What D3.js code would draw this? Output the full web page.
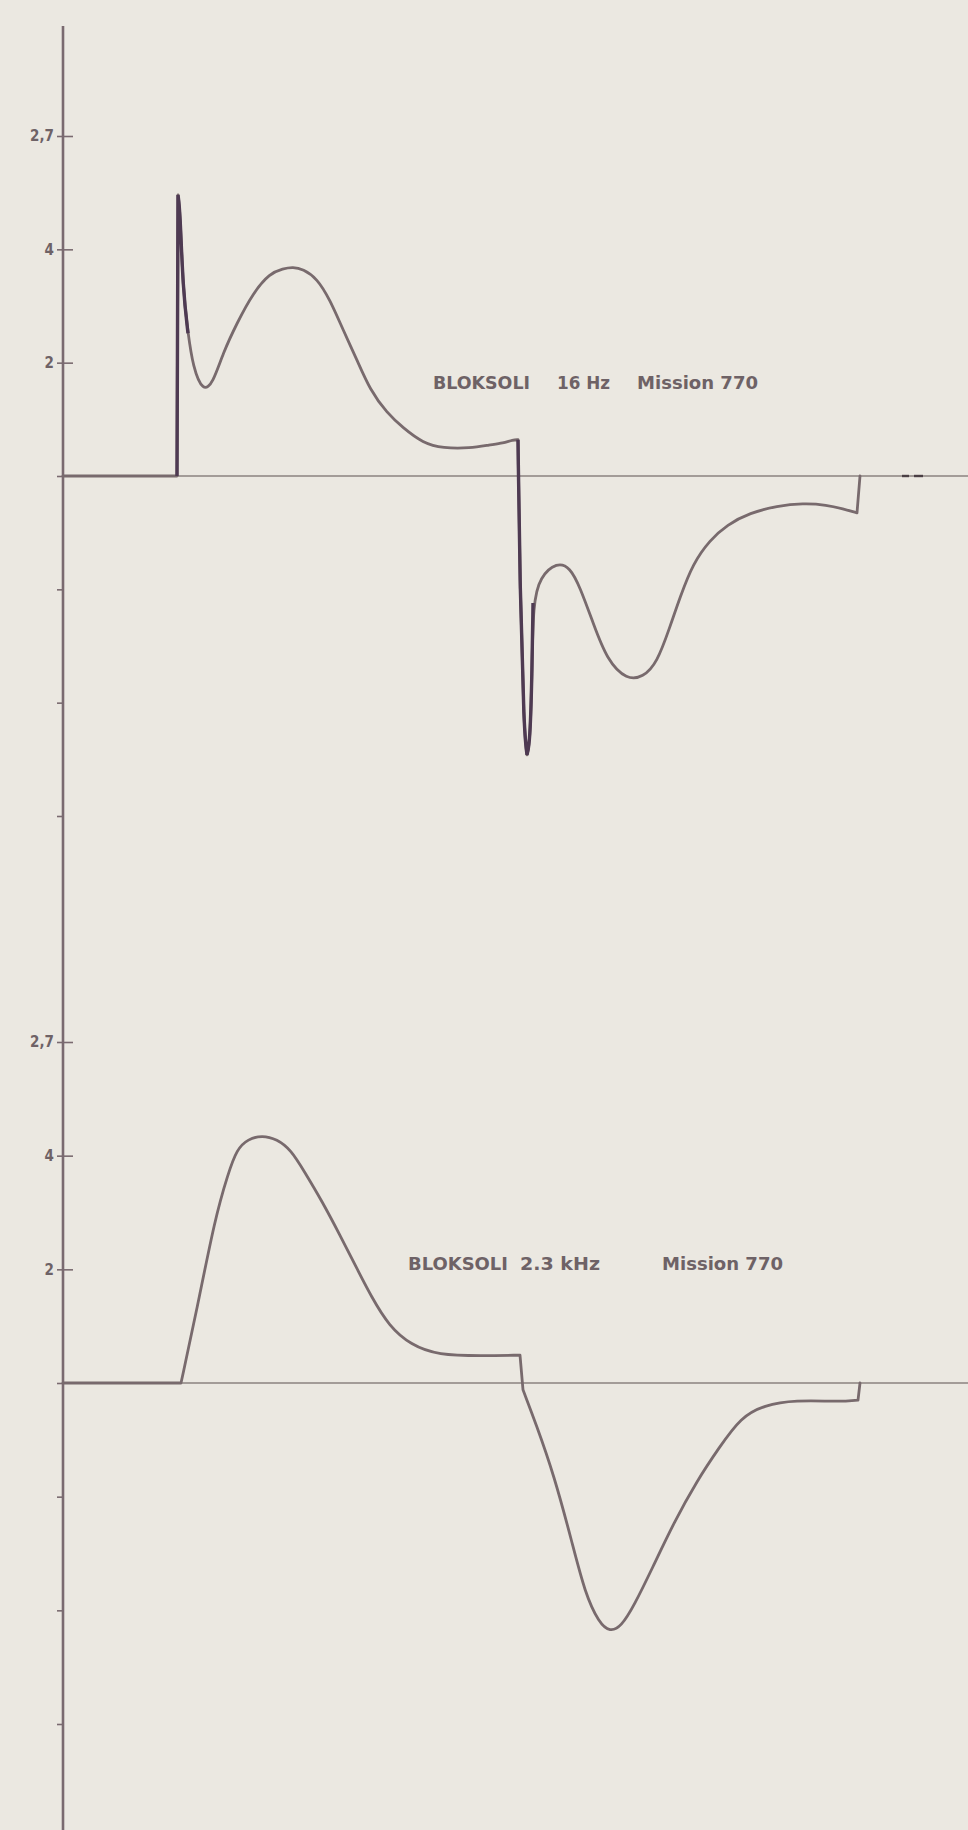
<!DOCTYPE html>
<html>
<head>
<meta charset="utf-8">
<script src="https://cdn.jsdelivr.net/npm/d3@7/dist/d3.min.js"></script>
<style>
  html, body { margin: 0; padding: 0; background: #ebe8e1; }
  svg { display: block; }
  text { font-family: "Liberation Sans Narrow", "DejaVu Sans Condensed", sans-serif; font-weight: bold; fill: #6e6266; }
</style>
</head>
<body>
<svg id="chart" width="968" height="1830"></svg>
<script>
// ---------- data ----------
// time (arbitrary units) and signal amplitude
const topTime = [0, 114, 115, 117, 120, 125, 130, 140, 150, 160, 174, 190, 207, 220, 230, 240, 254, 267, 280, 294, 307, 324, 340, 360, 380, 407, 427, 440, 450, 455, 457, 461, 464, 467, 469, 470, 477, 494, 507, 517, 530, 544, 564, 580, 594, 607, 617, 630, 647, 664, 687, 714, 740, 764, 780, 794, 797];
const topValue = [0, 0, 4.96, 4.70, 3.28, 2.52, 1.92, 1.48, 1.64, 2.17, 2.70, 3.23, 3.58, 3.66, 3.69, 3.65, 3.49, 3.11, 2.58, 2.05, 1.52, 1.11, 0.85, 0.58, 0.49, 0.49, 0.55, 0.58, 0.64, 0.64, -2.0, -4.5, -4.92, -4.7, -3.5, -2.24, -1.78, -1.52, -1.61, -1.96, -2.59, -3.25, -3.60, -3.55, -3.30, -2.66, -2.14, -1.54, -1.13, -0.86, -0.65, -0.53, -0.48, -0.51, -0.58, -0.65, 0];

const bottomTime = [0, 118, 134, 152, 165, 174, 185, 199, 214, 228, 241, 259, 277, 294, 308, 326, 348, 375, 419, 457, 460, 473, 491, 509, 522, 536, 547, 558, 571, 589, 611, 634, 656, 678, 701, 732, 777, 795, 797];
const bottomValue = [0, 0, 1.30, 2.90, 3.68, 4.12, 4.29, 4.36, 4.29, 4.10, 3.73, 3.20, 2.60, 2.01, 1.53, 1.00, 0.67, 0.49, 0.48, 0.49, -0.12, -0.72, -1.62, -2.80, -3.70, -4.22, -4.38, -4.29, -3.92, -3.27, -2.45, -1.72, -1.14, -0.60, -0.39, -0.30, -0.33, -0.30, 0];

// times where the trace has a sharp corner
const topBreaks = [114, 115, 455, 464, 794];
const bottomBreaks = [118, 457, 460, 795];

const tickValues = [6, 4, 2, 0, -2, -4, -6];
const tickLabels = ["2,7", "4", "2", "", "", "", ""];

const topCaption = ["BLOKSOLI", "16 Hz", "Mission 770"];
const bottomCaption = ["BLOKSOLI", "2.3 kHz", "Mission 770"];

// spike ranges drawn darker (time ranges)
const topSpikes = [[114, 125], [455, 470]];
const bottomSpikes = [];
// small marker on the upper baseline
const markerTime = [839, 846, 851, 860];

// ---------- layout ----------
const W = 968, H = 1830;
const axisX = 63;
const lineColor = "#786a6d";
const spikeColor = "#4e3a52";
const baseColor = "#a39c98";

const svg = d3.select("#chart");
svg.append("rect").attr("width", W).attr("height", H).attr("fill", "#ebe8e1");

const x = d3.scaleLinear().domain([0, 905]).range([axisX, W]);

const panels = [
  { time: topTime, value: topValue, breaks: topBreaks, yRange: [816, 136], caption: topCaption,
    capX: [370, 494, 574], capLen: [97, 53, 121], capY: 1.64, spikes: topSpikes, marker: true },
  { time: bottomTime, value: bottomValue, breaks: bottomBreaks, yRange: [1724, 1042], caption: bottomCaption,
    capX: [345, 457, 599], capLen: [100, 80, 121], capY: 2.1, spikes: bottomSpikes, marker: false }
];

function splitAt(data, breaks) {
  const segs = [];
  let cur = [];
  data.forEach(d => {
    cur.push(d);
    if (breaks.includes(d.t)) {
      if (cur.length > 1) segs.push(cur);
      cur = [d];
    }
  });
  if (cur.length > 1) segs.push(cur);
  return segs;
}

// single vertical axis line spanning both panels
svg.append("line")
  .attr("x1", axisX).attr("x2", axisX)
  .attr("y1", 26).attr("y2", H)
  .attr("stroke", "#7a6a70").attr("stroke-width", 2.6);

panels.forEach(p => {
  const y = d3.scaleLinear().domain([-6, 6]).range(p.yRange);
  const g = svg.append("g");

  // baseline
  g.append("line")
    .attr("x1", x(0)).attr("x2", x(905))
    .attr("y1", y(0)).attr("y2", y(0))
    .attr("stroke", baseColor).attr("stroke-width", 1.8);

  // axis ticks
  const axis = d3.axisLeft(y)
    .tickValues(tickValues)
    .tickSize(6)
    .tickPadding(3)
    .tickFormat((d, i) => tickLabels[i]);
  const ag = g.append("g").attr("transform", `translate(${axisX},0)`).call(axis);
  ag.select(".domain").remove();
  ag.selectAll(".tick line")
    .attr("stroke", "#7a6a70").attr("stroke-width", 1.6)
    .attr("x1", (d, i) => tickLabels[i] ? 10 : 0)
    .attr("x2", -6);
  ag.selectAll(".tick text")
    .attr("font-size", 15)
    .attr("fill", "#5e5256")
    .attr("font-family", "Liberation Sans Narrow, sans-serif")
    .attr("font-weight", "bold");

  const data = p.time.map((t, i) => ({ t, v: p.value[i] }));
  const line = d3.line()
    .x(d => x(d.t))
    .y(d => y(d.v))
    .curve(d3.curveBasis);

  const pathD = arr => splitAt(arr, p.breaks).map(s => line(s)).join("");

  g.append("path")
    .attr("d", pathD(data))
    .attr("fill", "none")
    .attr("stroke", lineColor)
    .attr("stroke-width", 2.8)
    .attr("stroke-linejoin", "round")
    .attr("stroke-linecap", "round");

  p.spikes.forEach(r => {
    const sub = data.filter(d => d.t >= r[0] && d.t <= r[1]);
    g.append("path")
      .attr("d", pathD(sub))
      .attr("fill", "none")
      .attr("stroke", spikeColor)
      .attr("stroke-width", 3.4)
      .attr("stroke-linejoin", "round");
  });

  if (p.marker) {
    g.append("line")
      .attr("x1", x(markerTime[0])).attr("x2", x(markerTime[1]))
      .attr("y1", y(0)).attr("y2", y(0))
      .attr("stroke", "#4a3f44").attr("stroke-width", 2.4);
    g.append("line")
      .attr("x1", x(markerTime[2])).attr("x2", x(markerTime[3]))
      .attr("y1", y(0)).attr("y2", y(0))
      .attr("stroke", "#4a3f44").attr("stroke-width", 2.4);
  }

  // caption
  p.caption.forEach((c, i) => {
    g.append("text")
      .attr("x", x(p.capX[i]))
      .attr("y", y(p.capY))
      .attr("dy", "0.35em")
      .attr("font-size", 17)
      .attr("textLength", p.capLen[i])
      .attr("lengthAdjust", "spacingAndGlyphs")
      .attr("fill", "#5f5357")
      .text(c);
  });
});
</script>
</body>
</html>
